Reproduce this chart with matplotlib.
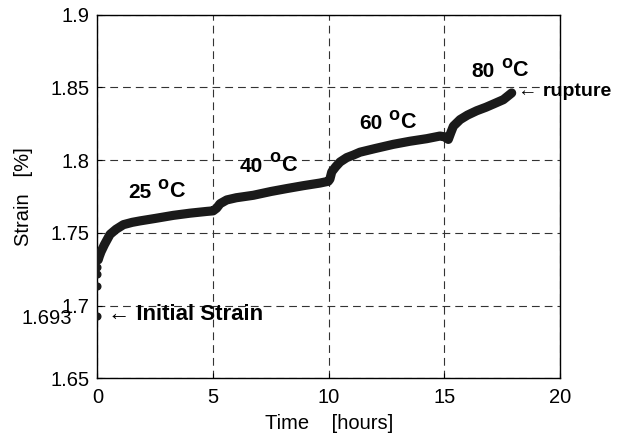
import matplotlib
matplotlib.use("Agg")
import matplotlib.pyplot as plt

# ---- data ----
t_initial = [0.0, 0.0, 0.0, 0.0]
s_initial = [1.693, 1.7136, 1.7215, 1.7266]

t_curve = [0.03, 0.08, 0.15, 0.3, 0.54, 0.8, 1.12, 1.5, 1.84, 2.5, 3.28, 4.0, 4.72,
           5.0, 5.15, 5.3, 5.59, 6.0, 6.74, 7.5, 8.18, 8.9, 9.62, 9.98,
           10.05, 10.13, 10.3, 10.49, 10.78, 11.06, 11.35, 12.0, 12.79, 13.5, 14.24, 14.81, 15.03,
           15.17, 15.28, 15.39, 15.68, 16.0, 16.4, 16.8, 17.12, 17.55, 17.91]
s_curve = [1.7315, 1.734, 1.737, 1.742, 1.749, 1.7525, 1.7557, 1.7573, 1.7583, 1.760, 1.7621, 1.7636, 1.7648,
           1.7652, 1.767, 1.7701, 1.7727, 1.7742, 1.7759, 1.7785, 1.7805, 1.7825, 1.7843, 1.7855,
           1.787, 1.792, 1.7955, 1.7988, 1.8018, 1.8035, 1.8055, 1.808, 1.8109, 1.813, 1.8148, 1.8166, 1.816,
           1.8143, 1.819, 1.8234, 1.8279, 1.831, 1.834, 1.8364, 1.8386, 1.8416, 1.8462]

x_ticks = [0, 5, 10, 15, 20]
y_ticks = [1.65, 1.7, 1.75, 1.8, 1.85, 1.9]
y_tick_labels = ["1.65", "1.7", "1.75", "1.8", "1.85", "1.9"]

temp_labels = ["25", "40", "60", "80"]
temp_pos_t = [1.32, 6.16, 11.3, 16.18]
temp_pos_s = [1.7738, 1.7921, 1.8212, 1.8570]

initial_value = 1.693

# ---- style ----
FONT = ["Liberation Sans", "DejaVu Sans"]
plt.rcParams["font.family"] = FONT

fig = plt.figure(figsize=(6.19, 4.37), dpi=100)
ax = fig.add_axes([0.1575, 0.1339, 0.7472, 0.8325])

ink = "#1a1a1a"
ax.plot(t_curve, s_curve, color=ink, lw=6.6, solid_capstyle="round",
        solid_joinstyle="round", zorder=3)
ax.plot(t_initial, s_initial, "o", color=ink, ms=4.8, zorder=3)

ax.set_xlim(0, 20)
ax.set_ylim(1.65, 1.9)
ax.set_xticks(x_ticks)
ax.set_yticks(y_ticks)
ax.set_yticklabels(y_tick_labels)
ax.tick_params(direction="in", length=3.5, width=0.8, labelsize=14.5, pad=5.5)
ax.tick_params(axis="x", pad=7)
ax.grid(True, color="#333333", lw=0.8, linestyle=(0, (7, 4.5)))
for sp in ax.spines.values():
    sp.set_linewidth(1.0)
    sp.set_color("black")

ax.set_xlabel("Time    [hours]", fontsize=14.5, labelpad=5)
ax.set_ylabel("Strain   [%]", fontsize=14.5, labelpad=13)

# temperature labels: number, raised "o", then "C"
for lab, tx, sy in zip(temp_labels, temp_pos_t, temp_pos_s):
    t1 = ax.text(tx, sy, lab, fontsize=15, fontweight="bold",
                 ha="left", va="baseline", zorder=4)
    t2 = ax.annotate("o", xy=(1, 0), xycoords=t1, xytext=(4.6, 7.0),
                     textcoords="offset points", fontsize=13, fontweight="bold",
                     ha="left", va="bottom", zorder=4)
    ax.annotate("C", xy=(1, 0), xycoords=(t2, t1), xytext=(0.2, 0),
                textcoords="offset points", fontsize=15.5, fontweight="bold",
                ha="left", va="bottom", zorder=4)

ax.text(18.18, 1.8471, "\u2190 rupture", fontsize=14, fontweight="bold",
        ha="left", va="center", clip_on=False, zorder=4)
ax.text(0.45, 1.6937, "\u2190 Initial Strain", fontsize=16, fontweight="bold",
        ha="left", va="center", zorder=4)
ax.text(-1.116, 1.6912, f"{initial_value:.3f}", fontsize=14.5, ha="right", va="center",
        clip_on=False, zorder=4)

fig.savefig("out.png", dpi=100)
